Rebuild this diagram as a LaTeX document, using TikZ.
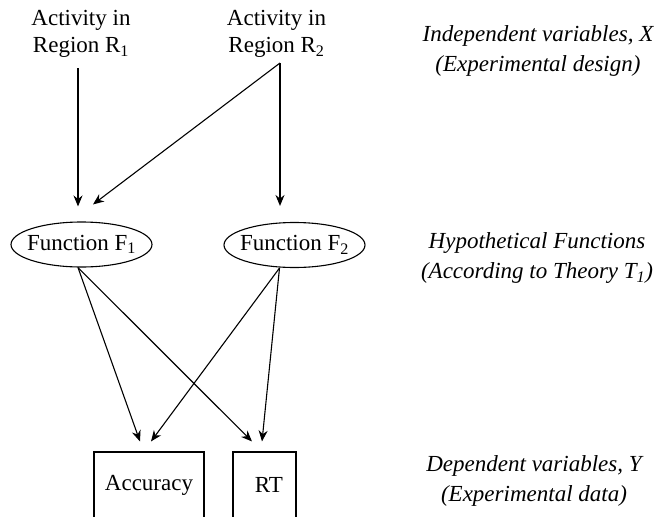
\documentclass[tikz,border=0pt]{standalone}
\usepackage{fontspec}
\setmainfont{Liberation Serif}
\usetikzlibrary{shapes.geometric,arrows.meta}
\tikzset{
  srctext/.style = {align=center, inner sep=0pt, font=\fontsize{23}{27}\selectfont},
  funcell/.style = {draw, ellipse, minimum width=141pt, minimum height=45pt,
                    inner xsep=-10pt, inner ysep=0pt, font=\fontsize{23}{27}\selectfont},
  databox/.style = {draw, rectangle, minimum height=66pt, inner sep=0pt,
                    font=\fontsize{23}{27}\selectfont},
  sidenote/.style = {align=center, inner sep=0pt, font=\fontsize{23}{30}\selectfont\itshape}
}
\begin{document}
\begin{tikzpicture}[x=1pt, y=-1pt, line width=1.1pt, >={Stealth[length=11pt, width=9pt]}]
  \useasboundingbox (0, 0) rectangle (654, 517);

  \node [srctext] (r1) at (81, 34) {Activity in\\Region R\textsubscript{1}};
  \node [srctext] (r2) at (276.5, 34) {Activity in\\Region R\textsubscript{2}};
  \coordinate (r1out) at (78, 68);
  \coordinate (r2out) at (280, 63);

  \node [funcell] (f1) at (81.5, 244.5) {Function F\textsubscript{1}};
  \node [funcell] (f2) at (294.5, 245) {Function F\textsubscript{2}};

  \node [databox, minimum width=110pt] (acc) at (149, 485) {Accuracy};
  \node [databox, minimum width=63pt] (rt) at (264.5, 485) {\hspace{9pt}RT};

  \node [sidenote] (xnote) at (538, 51) {Independent variables, X\\(Experimental design)};
  \node [sidenote] (fnote) at (537, 258) {Hypothetical Functions\\(According to Theory T\textsubscript{1})};
  \node [sidenote] (ynote) at (534, 481) {Dependent variables, Y\\(Experimental data)};

  \draw [->, shorten >=15pt] (r1out) -- (r1out |- f1.north);
  \draw [->, shorten >=16pt] (r2out) -- (r2out |- f2.north);
  \draw [->] (r2out) -- ([xshift=11.5pt, yshift=17pt]f1.north);

  \draw [->] ([xshift=-3.5pt]f1.south) -- ([xshift=-9pt, yshift=10pt]acc.north);
  \draw [->] ([xshift=-3.5pt]f1.south) -- ([xshift=-12.5pt, yshift=10pt]rt.north);
  \draw [->] ([xshift=-15pt]f2.south) -- ([xshift=2pt, yshift=10pt]acc.north);
  \draw [->] ([xshift=-15pt]f2.south) -- ([xshift=-2.5pt, yshift=10pt]rt.north);
\end{tikzpicture}
\end{document}
